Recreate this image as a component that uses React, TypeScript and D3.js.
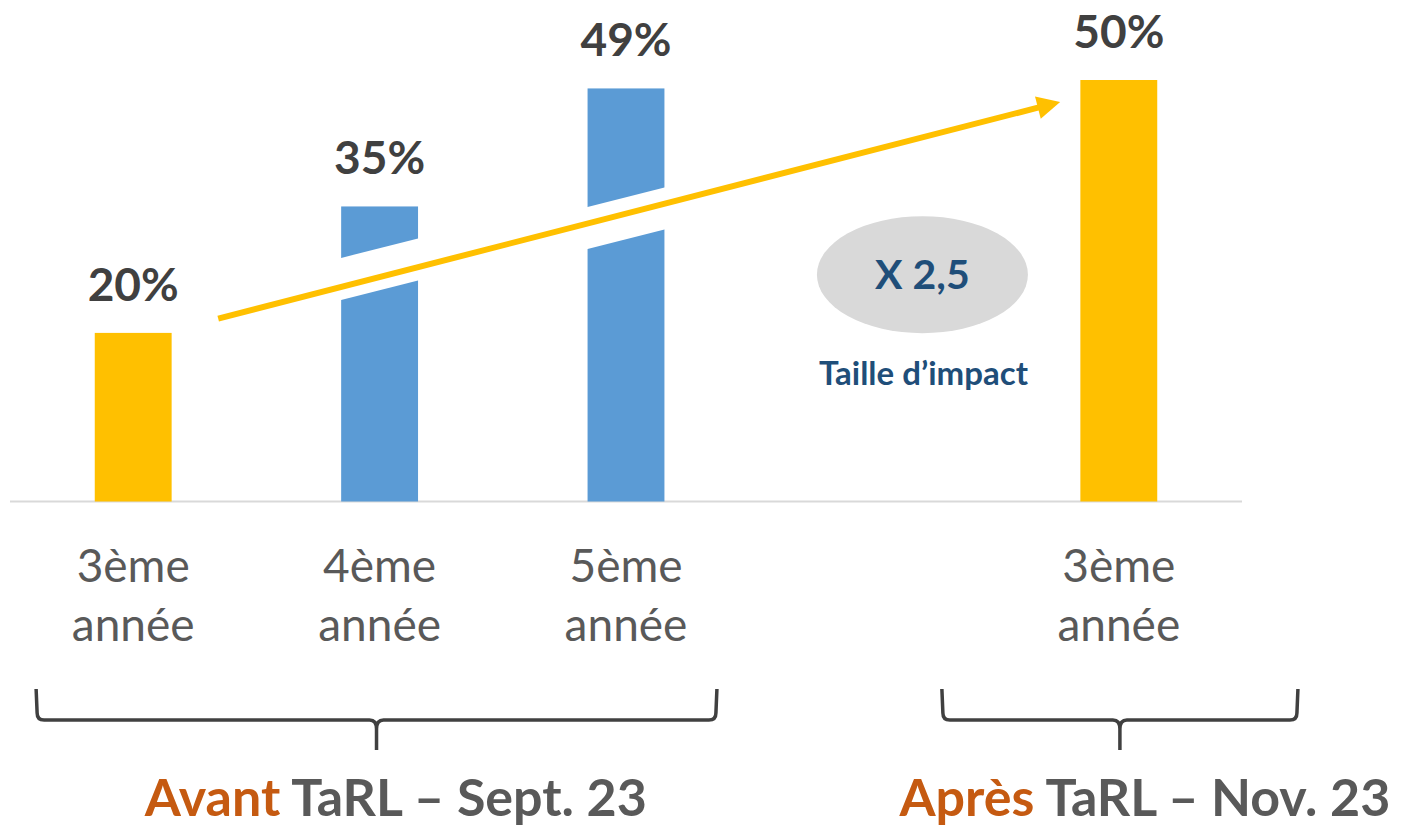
import React from 'react';
import * as d3 from 'd3';

// ---- data ----
const slots = ['avant-3', 'avant-4', 'avant-5', 'spacer', 'apres-3'];
const barSlots = ['avant-3', 'avant-4', 'avant-5', 'apres-3'];
const gradeLine1 = ['3ème', '4ème', '5ème', '3ème'];
const gradeLine2 = ['année', 'année', 'année', 'année'];
const values = [20, 35, 49, 50];
const isTarget = [true, false, false, true];
const groupAccent = ['Avant', 'Après'];
const groupRest = [' TaRL – Sept. 23', ' TaRL – Nov. 23'];
// brace extents in slot units
const braceFrom = [-0.394, 3.282];
const braceTo = [2.369, 4.727];
const groupLabelX = [1.066, 4.106];
// arrow annotation (slot units, percent values)
const arrowFrom = { s: 0.345, v: 21.7 };
const arrowTo = { s: 3.762, v: 47.4 };
// white cut across blue bars (px offset from arrow line)
const cutOffset = [0, -7.8, 4.6, 0];
const impactText = 'X 2,5';
const impactCaption = 'Taille d’impact';
const impactPos = { s: 3.203, v: 26.9 };

const W = 1402;
const H = 827;
const FONT = "Lato, 'Open Sans', 'Liberation Sans', sans-serif";
const YELLOW = '#FFC000';
const BLUE = '#5B9BD5';

export default function App() {
  const x = d3.scaleBand<string>().domain(slots).range([10, 1242]).paddingInner(0.688).paddingOuter(0.344);
  const xs = d3.scaleLinear().domain([-0.5, 4.5]).range([10, 1242]);
  const y = d3.scaleLinear().domain([0, 50]).range([501.5, 80]);

  const ax = xs(arrowFrom.s), ay = y(arrowFrom.v);
  const bx = xs(arrowTo.s), by = y(arrowTo.v);
  const len = Math.hypot(bx - ax, by - ay);
  const ux = (bx - ax) / len, uy = (by - ay) / len;
  const px = -uy, py = ux;
  const headL = 23, headW = 11.5;
  const backX = bx - ux * headL, backY = by - uy * headL;
  const slope = (by - ay) / (bx - ax);
  const lineY = (xx: number) => ay + slope * (xx - ax);

  const braceTop = 689, braceH = 720, braceB = 750, r = 7;
  const bracePath = (x0: number, x1: number) => {
    const xm = (x0 + x1) / 2;
    return `M${x0},${braceTop} L${x0 + 1},${braceH - r} Q${x0 + 1},${braceH} ${x0 + 1 + r},${braceH} L${xm - r},${braceH} Q${xm},${braceH} ${xm},${braceH + r + 2} L${xm},${braceB} M${xm},${braceH + r + 2} Q${xm},${braceH} ${xm + r},${braceH} L${x1 - 1 - r},${braceH} Q${x1 - 1},${braceH} ${x1 - 1},${braceH - r} L${x1},${braceTop}`;
  };

  return (
    <svg width={W} height={H} style={{ position: 'absolute', left: 0, top: 0, background: '#fff' }} fontFamily={FONT}>
      <line x1={10} x2={1242} y1={y(0)} y2={y(0)} stroke="#D9D9D9" strokeWidth={2} />
      {barSlots.map((s, i) => (
        <rect key={s} x={x(s)} y={y(values[i])} width={x.bandwidth()} height={y(0) - y(values[i])} fill={isTarget[i] ? YELLOW : BLUE} />
      ))}
      {barSlots.map((s, i) => {
        if (isTarget[i]) return null;
        const x0 = x(s)!, x1 = x0 + x.bandwidth();
        const c0 = lineY(x0) + cutOffset[i], c1 = lineY(x1) + cutOffset[i];
        const h = 21;
        return <polygon key={'cut' + s} points={`${x0 - 1},${c0 - h} ${x1 + 1},${c1 - h} ${x1 + 1},${c1 + h} ${x0 - 1},${c0 + h}`} fill="#fff" />;
      })}
      {barSlots.map((s, i) => (
        <text key={'v' + s} x={x(s)! + x.bandwidth() / 2} y={y(values[i]) - 32} textAnchor="middle" fontSize={46} fontWeight={700} fill="#404040">
          {values[i]}%
        </text>
      ))}
      {barSlots.map((s, i) => (
        <g key={'c' + s} fill="#595959" fontSize={46} textAnchor="middle">
          <text x={x(s)! + x.bandwidth() / 2} y={582}>{gradeLine1[i]}</text>
          <text x={x(s)! + x.bandwidth() / 2} y={641}>{gradeLine2[i]}</text>
        </g>
      ))}
      <line x1={ax} y1={ay} x2={backX + ux * 2} y2={backY + uy * 2} stroke={YELLOW} strokeWidth={6} />
      <polygon points={`${bx},${by} ${backX + px * headW},${backY + py * headW} ${backX - px * headW},${backY - py * headW}`} fill={YELLOW} />
      <ellipse cx={xs(impactPos.s)} cy={y(impactPos.v)} rx={105.5} ry={58.5} fill="#D9D9D9" />
      <text x={xs(impactPos.s)} y={y(impactPos.v) + 14.5} textAnchor="middle" fontSize={41} fontWeight={700} fill="#1F4E79">{impactText}</text>
      <text x={xs(impactPos.s) + 1} y={385} textAnchor="middle" fontSize={33} fontWeight={700} fill="#1F4E79">{impactCaption}</text>
      {braceFrom.map((f, i) => (
        <path key={'b' + i} d={bracePath(xs(f), xs(braceTo[i]))} fill="none" stroke="#404040" strokeWidth={3.5} />
      ))}
      {groupAccent.map((a, i) => (
        <text key={'g' + i} x={xs(groupLabelX[i])} y={816} textAnchor="middle" fontSize={52} fontWeight={700} fill="#595959">
          <tspan fill="#C55A11">{a}</tspan>{groupRest[i]}
        </text>
      ))}
    </svg>
  );
}
